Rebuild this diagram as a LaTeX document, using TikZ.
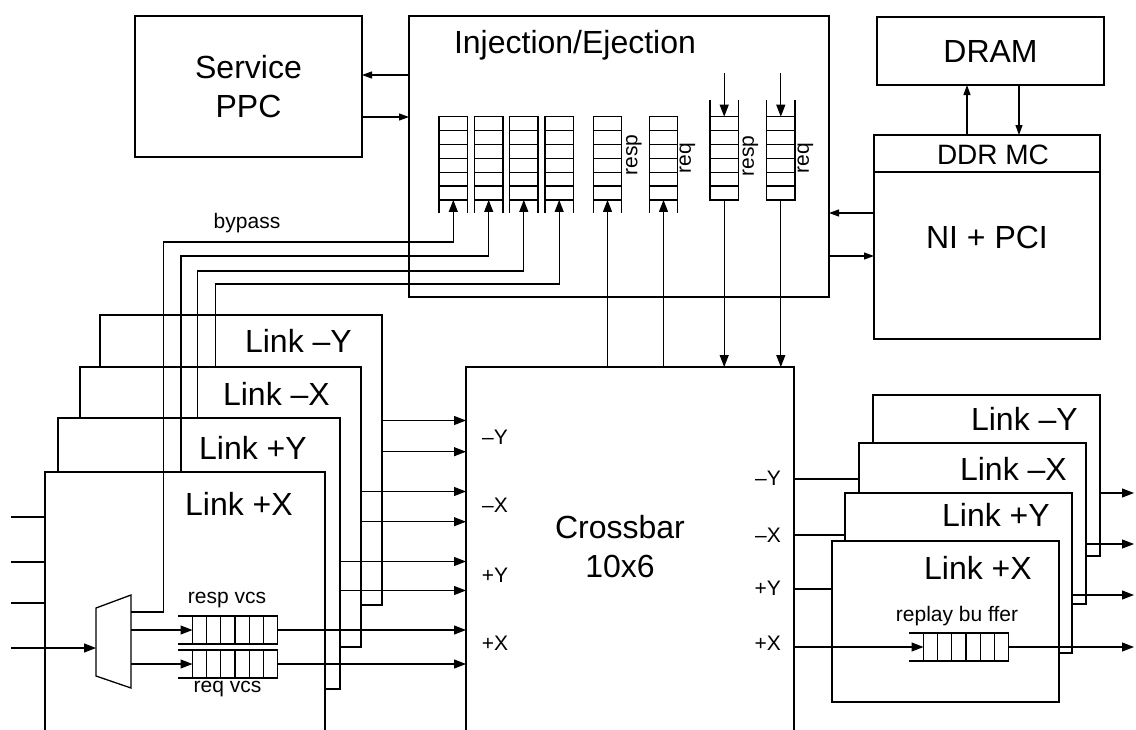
\documentclass[tikz,border=0pt]{standalone}
\usepackage{fontspec}
\setmainfont{Liberation Sans}
\usetikzlibrary{arrows.meta, positioning, calc}
\newcommand{\fntbig}{\fontsize{32}{39}\selectfont}
\newcommand{\fntmid}{\fontsize{28}{32}\selectfont}
\newcommand{\fntsmall}{\fontsize{21}{24}\selectfont}

\begin{document}
\begin{tikzpicture}[
  x=1pt, y=-1pt,
  box/.style={rectangle, draw, line width=2pt, fill=white, inner sep=0pt, outer sep=0pt,
              align=center, font=\fntbig},
  vq/.style={rectangle, draw, line width=1.3pt, fill=white, minimum width=28.5pt,
             minimum height=83.3pt, inner sep=0pt, outer sep=0pt},
  hq/.style={rectangle, draw, line width=1.3pt, fill=white, minimum width=85pt,
             minimum height=28pt, inner sep=0pt, outer sep=0pt},
  cell/.style={line width=1.3pt},
  wire/.style={line width=1.1pt},
  arrow/.style={wire, -{Triangle[length=12pt, width=9pt]}},
  sarrow/.style={wire, -{Triangle[length=10pt, width=7pt]}},
  linklbl/.style={font=\fntbig, anchor=east, inner sep=0pt},
  port/.style={font=\fntsmall, inner sep=0pt},
  tag/.style={font=\fntsmall, inner sep=0pt},
]
  \path[use as bounding box, fill=white] (0,0) rectangle (1136,729);

  \node[box, minimum width=227pt, minimum height=141pt] (ppc) at (248.5,86.5) {Service\\PPC};
  \node[box, minimum width=420pt, minimum height=281pt] (ie) at (619,156.5) {};
  \node[font=\fntbig, inner sep=0pt] (ietitle) at (575,45) {Injection/Ejection};
  \node[box, minimum width=227pt, minimum height=68pt] (dram) at (990.5,51) {DRAM};
  \node[box, minimum width=226pt, minimum height=204pt] (ni) at (987,237) {NI + PCI};
  \draw[line width=2pt] (ni.west |- 0,172) -- (ni.east |- 0,172);
  \node[font=\fntmid, inner sep=0pt] (ddr) at (993,155) {DDR MC};

  \foreach \n/\x in {q1/453.3, q2/488.7, q3/523.8, q4/559.2, q5/607.5, q6/663.5}{
    \node[vq] (\n) at (\x,158.3) {};
    \draw[cell] (\n.south west) -- ++(0,13) (\n.south east) -- ++(0,13);
  }
  \foreach \n/\x in {q7/724.2, q8/780.8}{
    \node[vq] (\n) at (\x,158.3) {};
    \draw[cell] (\n.north west) -- ++(0,-17) (\n.north east) -- ++(0,-17);
  }
  \foreach \n in {q1,q2,q3,q4,q5,q6,q7,q8}{
    \foreach \f in {0.1667,0.3333,0.5,0.6667,0.8333}
      \draw[cell] ($(\n.north west)!\f!(\n.south west)$) -- ($(\n.north east)!\f!(\n.south east)$);
  }
  \node[tag, rotate=90] (q5lbl) at (634,155) {resp};
  \node[tag, rotate=90] (q6lbl) at (687.5,158) {req};
  \node[tag, rotate=90] (q7lbl) at (750.5,156) {resp};
  \node[tag, rotate=90] (q8lbl) at (805.5,158) {req};

  \draw[sarrow] (ie.west |- 0,75) -- (ppc.east |- 0,75);
  \draw[sarrow] (ppc.east |- 0,117) -- (ie.west |- 0,117);
  \draw[sarrow] (ni.west |- 0,213) -- (ie.east |- 0,213);
  \draw[sarrow] (ie.east |- 0,256) -- (ni.west |- 0,256);
  \draw[sarrow] (ni.north -| 967,0) -- (dram.south -| 967,0);
  \draw[sarrow] (dram.south -| 1019,0) -- (ni.north -| 1019,0);

  \coordinate (ej7) at (724.2,73);
  \coordinate (ej8) at (780.8,73);
  \draw[arrow] (ej7) -- (q7.north);
  \draw[arrow] (ej8) -- (q8.north);

  \node[box, minimum width=328pt, minimum height=403pt] (xbar) at (630,568.5) {};
  \node[font=\fntbig, align=center, inner sep=0pt] (xbartxt) at (620,547) {Crossbar\\10x6};
  \draw[arrow] (q5.south |- xbar.north) -- (q5.south);
  \draw[arrow] (q6.south |- xbar.north) -- (q6.south);
  \draw[arrow] (q7.south) -- (q7.south |- xbar.north);
  \draw[arrow] (q8.south) -- (q8.south |- xbar.north);
  \foreach \t/\y/\n in {–Y/437/pimy, –X/505/pimx, +Y/575/pipy, +X/643/pipx}
    \node[port] (\n) at (495,\y) {\t};
  \foreach \t/\y/\n in {–Y/478/pomy, –X/535/pomx, +Y/588/popy, +X/643/popx}
    \node[port, anchor=east] (\n) at (781,\y) {\t};

  \node[tag] (bypass) at (247,223) {bypass};

  \node[box, minimum width=282pt, minimum height=290pt] (lmy) at (241,460) {};
  \node[linklbl] (lmytxt) at ($(lmy.north east)+(-30,26)$) {Link –Y};
  \coordinate (bp4) at (215.7,390);
  \draw[arrow] (bp4) |- ($(q4.south)+(0,84)$) -- (q4.south);
  \node[box, minimum width=281pt, minimum height=280pt] (lmx) at (220.5,507) {};
  \node[linklbl] (lmxtxt) at ($(lmx.north east)+(-31,27)$) {Link –X};
  \coordinate (bp3) at (197.7,440);
  \draw[arrow] (bp3) |- ($(q3.south)+(0,71)$) -- (q3.south);
  \node[box, minimum width=282pt, minimum height=271pt] (lpy) at (199,553.5) {};
  \node[linklbl] (lpytxt) at ($(lpy.north east)+(-33,30)$) {Link +Y};
  \coordinate (bp2) at (181,500);
  \draw[arrow] (bp2) |- ($(q2.south)+(0,56)$) -- (q2.south);
  \node[box, minimum width=280pt, minimum height=298pt] (lpx) at (185,621) {};
  \node[linklbl] (lpxtxt) at ($(lpx.north east)+(-32,32)$) {Link +X};

  \draw[line width=1.3pt, fill=white] (96,608) coordinate (muxtl) -- (131,595) coordinate (muxtr)
    -- (131,688) coordinate (muxbr) -- (96,676) coordinate (muxbl) -- cycle;
  \draw[arrow] (muxtr |- 0,612) -- (163.3,612) |- ($(q1.south)+(0,42)$) -- (q1.south);

  \node[hq] (vresp) at (235,630) {};
  \node[hq] (vreq) at (235,664) {};
  \node[tag] (vresplbl) at (227,600) {resp vcs};
  \node[tag] (vreqlbl) at (227.5,689) {req vcs};

  \foreach \n/\y in {in1/517, in2/562, in3/603}{
    \coordinate (\n) at (11,\y);
    \draw[wire] (\n) -- (\n -| lpx.west);
  }
  \coordinate (in4) at (11,648);
  \draw[arrow] (in4) -- (in4 -| muxtl);
  \draw[arrow] (muxtr |- vresp.west) -- (vresp.west);
  \draw[arrow] (muxtr |- vreq.west) -- (vreq.west);
  \draw[arrow] (vresp.east) -- (vresp.east -| xbar.west);
  \draw[arrow] (vreq.east) -- (vreq.east -| xbar.west);
  \foreach \b/\y in {lmy/420.5, lmy/451.7, lmx/491.5, lmx/521.7, lpy/561.5, lpy/590.5}
    \draw[arrow] (\b.east |- 0,\y) -- (xbar.west |- 0,\y);

  \node[box, minimum width=227pt, minimum height=161pt] (rmy) at (986.5,475.5) {};
  \node[linklbl] (rmytxt) at ($(rmy.north east)+(-22,24)$) {Link –Y};
  \node[box, minimum width=227pt, minimum height=161pt] (rmx) at (972.5,523.5) {};
  \node[linklbl] (rmxtxt) at ($(rmx.north east)+(-19,26)$) {Link –X};
  \node[box, minimum width=227pt, minimum height=160pt] (rpy) at (958.5,573) {};
  \node[linklbl] (rpytxt) at ($(rpy.north east)+(-22,22)$) {Link +Y};
  \node[box, minimum width=227pt, minimum height=161pt] (rpx) at (945.5,621.5) {};
  \node[linklbl] (rpxtxt) at ($(rpx.north east)+(-27,27)$) {Link +X};
  \node[tag] (replaylbl) at (957,616) {replay bu ffer};
  \node[hq] (replay) at (966,647) {};

  \foreach \n in {vresp,vreq,replay}{
    \draw[cell] (\n.north west) -- ++(-15,0) (\n.south west) -- ++(-15,0);
    \foreach \f in {0.1667,0.3333,0.5,0.6667,0.8333}
      \draw[cell] ($(\n.north west)!\f!(\n.north east)$) -- ($(\n.south west)!\f!(\n.south east)$);
  }

  \draw[wire] (xbar.east |- 0,479) -- (rmx.west |- 0,479);
  \draw[wire] (xbar.east |- 0,535) -- (rpy.west |- 0,535);
  \draw[wire] (xbar.east |- 0,589) -- (rpx.west |- 0,589);
  \draw[arrow] (xbar.east |- replay.west) -- (replay.west);

  \coordinate (omy) at (1134,493);
  \coordinate (omx) at (1134,544);
  \coordinate (opy) at (1134,595);
  \coordinate (opx) at (1134,647);
  \draw[arrow] (rmy.east |- omy) -- (omy);
  \draw[arrow] (rmx.east |- omx) -- (omx);
  \draw[arrow] (rpy.east |- opy) -- (opy);
  \draw[arrow] (replay.east) -- (opx);
\end{tikzpicture}
\end{document}
